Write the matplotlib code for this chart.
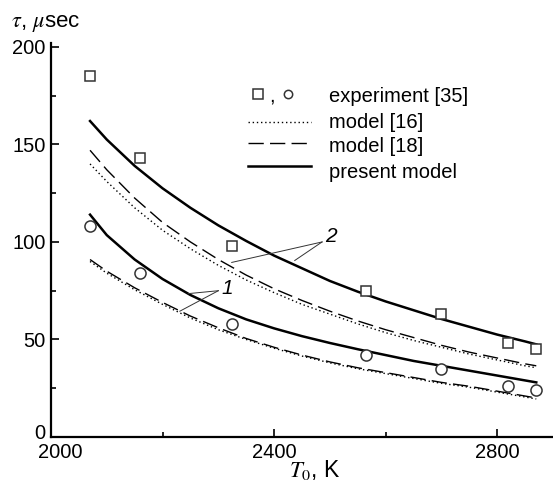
import numpy as np
import matplotlib
matplotlib.use("Agg")
import matplotlib.pyplot as plt
from matplotlib.lines import Line2D
from matplotlib.transforms import ScaledTranslation

plt.rcParams['font.family'] = ['Liberation Sans', 'DejaVu Sans']
plt.rcParams['mathtext.fontset'] = 'stix'

# experiment [35]
T_exp = [2070, 2160, 2325, 2565, 2700, 2820, 2870]
tau_exp_2 = [185, 143, 98, 75, 63, 48, 45]      # squares
tau_exp_1 = [108, 84, 58, 42, 35, 26, 24]       # circles

# model curves
T_mod = [2070, 2100, 2150, 2200, 2250, 2300, 2350, 2400, 2450, 2500,
         2550, 2600, 2650, 2700, 2750, 2800, 2850, 2870]
present_2 = [162, 152.5, 139, 127.5, 117.5, 108.5, 100.5, 93, 86.5, 80,
             74.5, 69.5, 65, 60.5, 56.5, 52.5, 49, 47.5]
model18_2 = [147, 137, 122.5, 110, 100, 91, 83, 76, 70, 64.5,
             59.5, 55, 51, 47, 43.5, 40.5, 37.5, 36.5]
model16_2 = [140, 131, 117.5, 106, 96.5, 88, 80.5, 74, 68, 63,
             58, 53.5, 49.5, 46, 42.5, 39.5, 36.5, 35.5]
present_1 = [114, 103.5, 91, 81, 72.8, 66, 60.3, 55.7, 51.7, 48.2,
             45, 42, 39, 36.5, 34, 31.5, 29, 28]
model18_1 = [91, 85, 76.5, 69, 62, 56, 50.5, 46, 42, 38.5,
             35.5, 33, 30.5, 28, 26, 23.5, 21, 20]
model16_1 = [90, 84, 75.5, 68, 61, 55, 50, 45.5, 41.5, 38,
             35, 32.5, 30, 27.5, 25.5, 23, 20.5, 19.5]

W, H = 553, 483
fig = plt.figure(figsize=(W / 100, H / 100), dpi=100)
ax = fig.add_axes([51 / W, 46 / H, 502 / W, 394 / H])

dash = (0, (11, 4.5))
dot = (0, (1, 2))
for m16, m18, pres in [(model16_2, model18_2, present_2), (model16_1, model18_1, present_1)]:
    ax.plot(T_mod, m16, color='black', lw=1.0, linestyle=dot)
    ax.plot(T_mod, m18, color='black', lw=1.0, linestyle=dash)
    ax.plot(T_mod, pres, color='black', lw=1.8)

ax.plot(T_exp, tau_exp_2, 's', ms=6.8, mfc='white', mec='#333333', mew=1.1)
ax.plot(T_exp, tau_exp_1, 'o', ms=8, mfc='white', mec='#333333', mew=1.1)

# curve numbers with leader lines
lead = dict(color='#333333', lw=0.7)
ax.plot([2486, 2324], [100, 89.5], **lead)
ax.plot([2486, 2437], [100, 90.5], **lead)
ax.text(2492, 103, '2', fontsize=15, style='italic', ha='left', va='center')
ax.plot([2300, 2246], [75, 73.5], **lead)
ax.plot([2300, 2231], [75, 64.5], **lead)
ax.text(2305, 76, '1', fontsize=15, style='italic', ha='left', va='center')

ax.set_xlim(2000, 2900)
ax.set_ylim(0, 202)
ax.set_xticks([2000, 2400, 2800])
ax.set_xticks([2200, 2600], minor=True)
ax.set_yticks([0, 50, 100, 150, 200])
ax.set_yticks([25, 75, 125, 175], minor=True)
for s in ['top', 'right']:
    ax.spines[s].set_visible(False)
for s in ['left', 'bottom']:
    ax.spines[s].set_linewidth(1.6)
ax.tick_params(which='both', direction='in', width=1.2, labelsize=14.5)
ax.tick_params(which='major', length=6)
ax.tick_params(which='minor', length=3.6)
ax.tick_params(axis='y', pad=4)
ax.tick_params(axis='x', pad=4)

fig.canvas.draw()
xl = ax.get_xticklabels()[0]
xl.set_transform(xl.get_transform() + ScaledTranslation(7 / 72, 0, fig.dpi_scale_trans))
yl = ax.get_yticklabels()[0]
yl.set_transform(yl.get_transform() + ScaledTranslation(0, 4 / 72, fig.dpi_scale_trans))

fig.text(11 / W, 1 - 27 / H, r'$\tau$, $\mu$sec', fontsize=16, va='baseline', ha='left')
fig.text(289 / W, 1 - 477 / H, r'$T_0$, K', fontsize=16.5, va='baseline', ha='left')


# legend drawn in figure pixels
def px(x, y):
    return x / W, 1 - y / H


leg_rows = [102, 127.5, 152.5, 178]
leg_text = ['experiment [35]', 'model [16]', 'model [18]', 'present model']
for yb, t in zip(leg_rows, leg_text):
    fig.text(*px(329, yb), t, fontsize=14.5, va='baseline', ha='left')

x0, y0 = px(258, 94)
fig.add_artist(Line2D([x0], [y0], marker='s', ms=6.5, mfc='white', mec='#333333', mew=1.1))
fig.text(*px(269, 101), ',', fontsize=14.5, va='baseline', ha='left')
x0, y0 = px(288, 94)
fig.add_artist(Line2D([x0], [y0], marker='o', ms=6, mfc='white', mec='#333333', mew=1.1))
for yl_, ls, lw in [(122, dot, 1.0), (143, dash, 1.0), (166, '-', 1.8)]:
    (xa, ya), (xb, yb_) = px(248, yl_), px(311, yl_)
    fig.add_artist(Line2D([xa, xb], [ya, yb_], color='black', lw=lw, linestyle=ls))

fig.savefig('out.png', dpi=100)
